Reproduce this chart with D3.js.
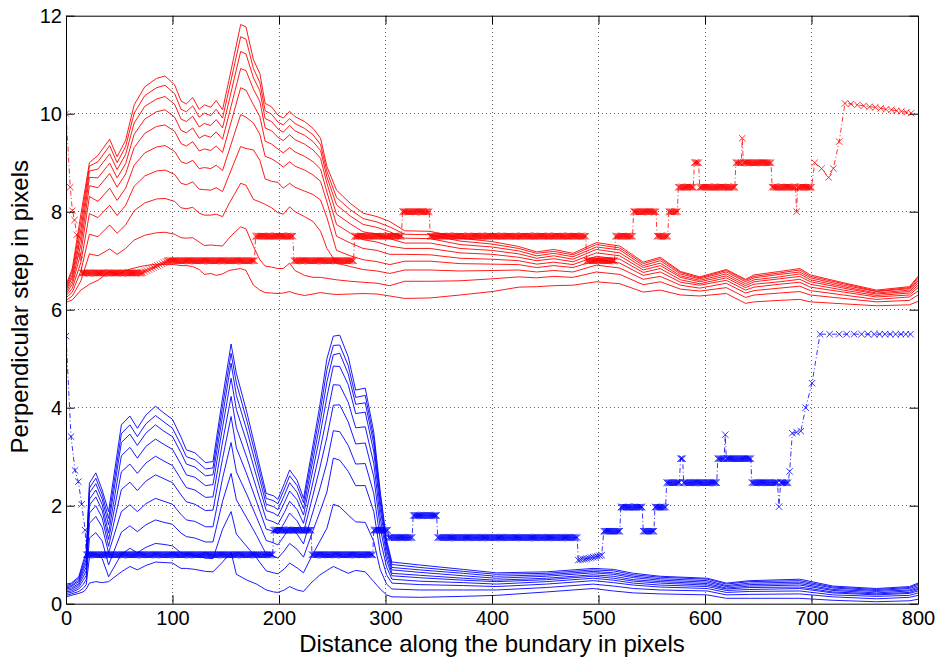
<!DOCTYPE html>
<html>
<head>
<meta charset="utf-8">
<script src="https://cdn.jsdelivr.net/npm/d3@7"></script>
<style>
  html, body { margin: 0; padding: 0; background: #fff; }
  svg { display: block; }
  text { font-family: "Liberation Sans", Arial, Helvetica, sans-serif; }
</style>
</head>
<body>
<svg id="chart" width="937" height="659"></svg>
<script>
// ---------------- data ----------------
const xTicks = [0, 100, 200, 300, 400, 500, 600, 700, 800];
const yTicks = [0, 2, 4, 6, 8, 10, 12];

// upper (red) family: sample positions along the boundary and ten step curves
const redX = [0, 6, 14, 22, 30, 41, 48, 56, 64, 74, 85, 93, 102, 108, 113, 119, 125, 130, 136, 141, 147, 153, 158, 164, 169, 176, 182, 187, 193, 199, 204, 210, 215, 224, 232, 239, 245, 254, 267, 279, 292, 304, 318, 342, 370, 400, 425, 442, 458, 476, 498, 520, 542, 558, 577, 595, 620, 638, 646, 670, 689, 699, 730, 761, 792, 800];
const redCurves = [
  [6.15, 6.2, 6.4, 6.52, 6.6, 6.78, 6.72, 6.8, 6.85, 6.9, 6.93, 6.92, 6.92, 6.9, 6.9, 6.88, 6.82, 6.72, 6.74, 6.7, 6.73, 6.8, 6.82, 6.84, 6.8, 6.5, 6.4, 6.35, 6.34, 6.33, 6.34, 6.37, 6.33, 6.29, 6.32, 6.35, 6.33, 6.31, 6.32, 6.33, 6.32, 6.28, 6.23, 6.24, 6.3, 6.37, 6.46, 6.47, 6.49, 6.5, 6.57, 6.53, 6.36, 6.4, 6.3, 6.28, 6.33, 6.13, 6.16, 6.19, 6.21, 6.16, 6.12, 6.08, 6.1, 6.17],
  [6.19, 6.28, 6.59, 7.14, 7.1, 7.24, 7.13, 7.25, 7.42, 7.52, 7.57, 7.58, 7.54, 7.47, 7.46, 7.47, 7.38, 7.31, 7.32, 7.31, 7.30, 7.46, 7.57, 7.69, 7.65, 7.29, 7.02, 6.89, 6.87, 6.84, 6.84, 6.95, 6.8, 6.7, 6.66, 6.66, 6.64, 6.61, 6.58, 6.56, 6.54, 6.49, 6.58, 6.58, 6.59, 6.63, 6.67, 6.65, 6.68, 6.66, 6.77, 6.72, 6.51, 6.57, 6.42, 6.38, 6.45, 6.25, 6.30, 6.34, 6.37, 6.30, 6.23, 6.16, 6.19, 6.30],
  [6.24, 6.36, 6.79, 7.54, 7.49, 7.73, 7.56, 7.73, 8.02, 8.18, 8.26, 8.27, 8.21, 8.08, 8.06, 8.09, 7.97, 7.93, 7.93, 7.95, 7.90, 8.16, 8.35, 8.58, 8.54, 8.25, 8.2, 8.15, 8.08, 7.98, 7.95, 8.1, 8.0, 7.9, 7.8, 7.6, 7.25, 6.95, 6.88, 6.82, 6.79, 6.74, 6.81, 6.81, 6.79, 6.80, 6.81, 6.77, 6.80, 6.77, 6.91, 6.85, 6.62, 6.68, 6.50, 6.44, 6.54, 6.34, 6.39, 6.44, 6.48, 6.39, 6.30, 6.21, 6.26, 6.38],
  [6.28, 6.44, 6.97, 7.96, 7.88, 8.13, 7.92, 8.13, 8.52, 8.73, 8.83, 8.85, 8.76, 8.58, 8.55, 8.61, 8.46, 8.45, 8.44, 8.49, 8.41, 8.74, 9.01, 9.33, 9.29, 9.26, 9.05, 8.67, 8.62, 8.6, 8.48, 8.58, 8.50, 8.42, 8.35, 8.24, 7.88, 7.21, 7.10, 7.02, 6.98, 6.92, 6.99, 6.99, 6.94, 6.93, 6.92, 6.86, 6.90, 6.86, 7.01, 6.95, 6.70, 6.77, 6.56, 6.50, 6.60, 6.40, 6.46, 6.52, 6.56, 6.46, 6.36, 6.26, 6.30, 6.45],
  [6.32, 6.52, 7.16, 8.31, 8.21, 8.48, 8.23, 8.48, 8.95, 9.20, 9.32, 9.35, 9.23, 9.02, 8.98, 9.05, 8.88, 8.90, 8.88, 8.95, 8.84, 9.24, 9.58, 9.98, 9.93, 9.81, 9.58, 9.13, 9.08, 9.0, 8.91, 9.02, 8.93, 8.85, 8.75, 8.62, 8.20, 7.50, 7.36, 7.25, 7.21, 7.13, 7.13, 7.12, 7.05, 7.03, 7.00, 6.93, 6.97, 6.92, 7.09, 7.03, 6.76, 6.84, 6.61, 6.53, 6.65, 6.45, 6.52, 6.57, 6.62, 6.52, 6.40, 6.29, 6.34, 6.50],
  [6.36, 6.59, 7.33, 8.53, 8.49, 8.78, 8.50, 8.77, 9.31, 9.60, 9.74, 9.77, 9.64, 9.39, 9.34, 9.43, 9.24, 9.28, 9.25, 9.34, 9.21, 9.67, 10.06, 10.53, 10.48, 10.18, 9.94, 9.44, 9.38, 9.28, 9.20, 9.31, 9.22, 9.13, 9.02, 8.87, 8.40, 7.74, 7.56, 7.43, 7.38, 7.30, 7.25, 7.25, 7.16, 7.13, 7.07, 7.00, 7.04, 6.98, 7.16, 7.10, 6.81, 6.90, 6.66, 6.57, 6.69, 6.49, 6.57, 6.63, 6.68, 6.57, 6.44, 6.32, 6.37, 6.55],
  [6.40, 6.66, 7.49, 8.70, 8.69, 8.99, 8.69, 8.98, 9.58, 9.89, 10.04, 10.08, 9.93, 9.66, 9.61, 9.71, 9.50, 9.56, 9.52, 9.63, 9.48, 9.98, 10.41, 10.92, 10.88, 10.50, 10.25, 9.71, 9.65, 9.52, 9.45, 9.57, 9.47, 9.38, 9.26, 9.09, 8.58, 7.95, 7.75, 7.59, 7.54, 7.45, 7.36, 7.36, 7.25, 7.21, 7.14, 7.05, 7.10, 7.03, 7.23, 7.16, 6.86, 6.95, 6.69, 6.60, 6.73, 6.53, 6.61, 6.67, 6.73, 6.61, 6.47, 6.34, 6.40, 6.59],
  [6.43, 6.72, 7.64, 8.83, 8.87, 9.18, 8.86, 9.17, 9.81, 10.15, 10.30, 10.35, 10.19, 9.89, 9.84, 9.95, 9.73, 9.80, 9.76, 9.88, 9.71, 10.25, 10.72, 11.27, 11.22, 10.73, 10.47, 9.90, 9.84, 9.69, 9.62, 9.76, 9.65, 9.56, 9.43, 9.25, 8.71, 8.14, 7.91, 7.74, 7.68, 7.59, 7.46, 7.45, 7.33, 7.28, 7.20, 7.10, 7.15, 7.08, 7.28, 7.22, 6.90, 7.00, 6.73, 6.63, 6.77, 6.57, 6.65, 6.72, 6.77, 6.65, 6.50, 6.37, 6.43, 6.62],
  [6.47, 6.79, 7.80, 8.93, 9.02, 9.35, 9.00, 9.33, 10.01, 10.37, 10.53, 10.58, 10.41, 10.09, 10.04, 10.16, 9.93, 10.01, 9.96, 10.09, 9.91, 10.49, 10.98, 11.57, 11.52, 10.92, 10.64, 10.06, 9.99, 9.83, 9.77, 9.90, 9.80, 9.70, 9.57, 9.37, 8.82, 8.29, 8.04, 7.86, 7.79, 7.69, 7.54, 7.53, 7.40, 7.34, 7.25, 7.15, 7.19, 7.12, 7.33, 7.26, 6.94, 7.04, 6.76, 6.65, 6.80, 6.60, 6.68, 6.75, 6.81, 6.68, 6.53, 6.38, 6.45, 6.66],
  [6.5, 6.85, 7.95, 9.0, 9.15, 9.48, 9.12, 9.46, 10.18, 10.55, 10.72, 10.77, 10.59, 10.26, 10.2, 10.33, 10.09, 10.18, 10.13, 10.27, 10.08, 10.68, 11.2, 11.82, 11.77, 11.1, 10.82, 10.21, 10.14, 9.97, 9.91, 10.05, 9.94, 9.84, 9.7, 9.5, 8.92, 8.44, 8.17, 7.97, 7.9, 7.8, 7.61, 7.6, 7.46, 7.39, 7.29, 7.18, 7.23, 7.15, 7.37, 7.3, 6.97, 7.07, 6.78, 6.67, 6.82, 6.62, 6.71, 6.78, 6.84, 6.71, 6.55, 6.4, 6.47, 6.68]
];

// lower (blue) family
const blueX = [0, 5, 12, 16, 19, 22, 28, 34, 40, 52, 60, 67, 75, 84, 92, 100, 108, 113, 121, 131, 138, 147, 155, 160, 170, 179, 188, 195, 199, 205, 210, 217, 223, 230, 238, 245, 251, 257, 265, 272, 281, 289, 295, 301, 306, 332, 373, 404, 451, 495, 514, 533, 558, 602, 620, 642, 689, 720, 761, 792, 800];
const blueCurves = [
  [0.14, 0.17, 0.21, 0.24, 0.3, 0.42, 0.45, 0.43, 0.45, 0.65, 0.76, 0.69, 0.78, 0.85, 0.84, 0.83, 0.72, 0.72, 0.7, 0.66, 0.65, 0.85, 1.05, 0.6, 0.48, 0.4, 0.28, 0.24, 0.23, 0.28, 0.35, 0.28, 0.25, 0.42, 0.58, 0.68, 0.76, 0.7, 0.62, 0.68, 0.65, 0.45, 0.3, 0.18, 0.14, 0.13, 0.15, 0.17, 0.24, 0.31, 0.26, 0.22, 0.2, 0.18, 0.11, 0.11, 0.11, 0.07, 0.04, 0.06, 0.09],
  [0.17, 0.20, 0.25, 0.31, 0.39, 0.95, 1.03, 0.92, 0.55, 1.01, 1.13, 1.04, 1.15, 1.23, 1.21, 1.18, 1.04, 1.01, 0.99, 0.93, 0.92, 1.52, 1.88, 1.42, 1.16, 0.93, 0.67, 0.63, 0.61, 0.71, 0.83, 0.73, 0.63, 0.94, 1.26, 1.54, 2.03, 1.98, 1.81, 1.67, 1.66, 1.27, 0.70, 0.40, 0.30, 0.28, 0.28, 0.28, 0.33, 0.40, 0.36, 0.31, 0.28, 0.26, 0.18, 0.19, 0.20, 0.14, 0.10, 0.13, 0.17],
  [0.21, 0.23, 0.30, 0.39, 0.49, 1.34, 1.45, 1.28, 0.79, 1.46, 1.59, 1.47, 1.61, 1.71, 1.66, 1.62, 1.44, 1.37, 1.34, 1.26, 1.26, 2.09, 2.66, 2.12, 1.74, 1.39, 1.01, 0.97, 0.93, 1.08, 1.23, 1.11, 0.95, 1.38, 1.85, 2.28, 2.97, 2.93, 2.70, 2.41, 2.41, 1.88, 1.04, 0.59, 0.42, 0.39, 0.37, 0.35, 0.40, 0.47, 0.43, 0.38, 0.34, 0.31, 0.23, 0.25, 0.26, 0.18, 0.15, 0.17, 0.22],
  [0.24, 0.26, 0.34, 0.47, 0.58, 1.64, 1.78, 1.56, 1.04, 1.88, 2.02, 1.88, 2.04, 2.15, 2.09, 2.03, 1.82, 1.71, 1.68, 1.57, 1.57, 2.56, 3.29, 2.69, 2.22, 1.76, 1.29, 1.24, 1.20, 1.39, 1.56, 1.42, 1.22, 1.74, 2.32, 2.88, 3.53, 3.51, 3.23, 2.85, 2.86, 2.25, 1.32, 0.75, 0.50, 0.46, 0.43, 0.40, 0.45, 0.52, 0.48, 0.42, 0.38, 0.35, 0.27, 0.29, 0.31, 0.22, 0.18, 0.21, 0.26],
  [0.27, 0.29, 0.38, 0.54, 0.67, 1.85, 2.00, 1.75, 1.17, 2.33, 2.48, 2.31, 2.50, 2.63, 2.55, 2.47, 2.22, 2.08, 2.03, 1.90, 1.91, 2.96, 3.82, 3.18, 2.63, 2.08, 1.52, 1.48, 1.43, 1.65, 1.85, 1.69, 1.45, 2.05, 2.74, 3.40, 4.05, 4.06, 3.71, 3.26, 3.28, 2.59, 1.56, 0.89, 0.57, 0.53, 0.48, 0.45, 0.49, 0.56, 0.52, 0.46, 0.42, 0.38, 0.30, 0.33, 0.34, 0.24, 0.20, 0.23, 0.29],
  [0.30, 0.32, 0.41, 0.61, 0.75, 2.01, 2.18, 1.90, 1.31, 2.69, 2.85, 2.66, 2.87, 3.01, 2.91, 2.82, 2.54, 2.37, 2.32, 2.17, 2.18, 3.30, 4.23, 3.59, 2.97, 2.35, 1.72, 1.67, 1.62, 1.86, 2.09, 1.92, 1.64, 2.30, 3.08, 3.83, 4.47, 4.46, 4.11, 3.59, 3.61, 2.86, 1.76, 1.00, 0.62, 0.58, 0.52, 0.48, 0.52, 0.59, 0.56, 0.49, 0.45, 0.41, 0.32, 0.36, 0.38, 0.27, 0.22, 0.26, 0.31],
  [0.32, 0.35, 0.45, 0.67, 0.83, 2.13, 2.32, 2.02, 1.44, 3.02, 3.19, 2.97, 3.21, 3.36, 3.25, 3.15, 2.84, 2.63, 2.58, 2.41, 2.43, 3.60, 4.60, 3.96, 3.28, 2.59, 1.90, 1.85, 1.79, 2.06, 2.30, 2.12, 1.81, 2.54, 3.38, 4.22, 4.85, 4.84, 4.47, 3.88, 3.91, 3.10, 1.94, 1.10, 0.69, 0.64, 0.57, 0.52, 0.56, 0.63, 0.60, 0.53, 0.48, 0.44, 0.35, 0.39, 0.41, 0.29, 0.25, 0.28, 0.34],
  [0.35, 0.37, 0.48, 0.73, 0.90, 2.26, 2.45, 2.13, 1.61, 3.29, 3.46, 3.23, 3.48, 3.65, 3.52, 3.41, 3.08, 2.85, 2.79, 2.61, 2.63, 3.83, 4.91, 4.25, 3.52, 2.78, 2.03, 1.98, 1.92, 2.21, 2.47, 2.27, 1.94, 2.72, 3.62, 4.53, 5.08, 5.11, 4.69, 4.07, 4.10, 3.26, 2.08, 1.18, 0.74, 0.69, 0.62, 0.56, 0.59, 0.66, 0.63, 0.56, 0.51, 0.47, 0.37, 0.42, 0.44, 0.32, 0.27, 0.31, 0.37],
  [0.37, 0.40, 0.52, 0.79, 0.98, 2.36, 2.56, 2.23, 1.74, 3.47, 3.65, 3.41, 3.67, 3.84, 3.71, 3.58, 3.24, 3.00, 2.94, 2.75, 2.77, 4.03, 5.11, 4.50, 3.72, 2.94, 2.15, 2.10, 2.04, 2.34, 2.61, 2.41, 2.06, 2.87, 3.83, 4.78, 5.27, 5.28, 4.86, 4.21, 4.25, 3.38, 2.20, 1.24, 0.80, 0.74, 0.66, 0.60, 0.62, 0.69, 0.67, 0.59, 0.54, 0.50, 0.40, 0.45, 0.47, 0.34, 0.29, 0.33, 0.40],
  [0.4, 0.42, 0.55, 0.85, 1.05, 2.46, 2.67, 2.32, 1.88, 3.65, 3.83, 3.58, 3.85, 4.03, 3.89, 3.76, 3.4, 3.14, 3.08, 2.88, 2.9, 4.2, 5.3, 4.7, 3.89, 3.07, 2.25, 2.2, 2.13, 2.45, 2.73, 2.52, 2.15, 3.0, 4.0, 5.0, 5.46, 5.48, 5.04, 4.36, 4.40, 3.5, 2.3, 1.3, 0.85, 0.79, 0.70, 0.63, 0.65, 0.72, 0.70, 0.62, 0.56, 0.52, 0.42, 0.47, 0.50, 0.36, 0.31, 0.35, 0.42]
];

// step estimates: constant runs [from, to, level] sampled at every unit,
// plus individually placed samples [x, level]
const redStepRuns = [[15, 71, 6.75], [95, 177, 7.0], [178, 213, 7.5], [214, 270, 7.0], [271, 315, 7.5], [316, 341, 8.0], [342, 488, 7.5], [489, 515, 7.0], [516, 532, 7.5], [533, 554, 8.0], [555, 565, 7.5], [566, 574, 8.0], [575, 589, 8.5], [590, 594, 9.0], [595, 628, 8.5], [629, 634, 9.0], [636, 662, 9.0], [663, 685, 8.5], [687, 700, 8.5]];
const redStepPoints = [[0, 10.0], [4, 8.5], [6, 8.02], [8, 7.83], [10, 7.53], [13, 7.12],
  [72, 6.76], [74, 6.78], [76, 6.8], [78, 6.82], [80, 6.84], [82, 6.86], [84, 6.88], [86, 6.9], [88, 6.92], [90, 6.94], [92, 6.96], [94, 6.98],
  [635, 9.5], [686, 8.0],
  [703, 9.0], [709.5, 8.88], [716, 8.7], [720.5, 8.88], [726, 9.43], [731.4, 10.21], [737, 10.2], [743, 10.18], [749, 10.16], [754.5, 10.14], [760, 10.13], [765, 10.11], [770, 10.09], [775, 10.08], [780, 10.06], [784.5, 10.05], [789, 10.03], [793.5, 10.01]];

const blueStepRuns = [[19, 194, 1.0], [195, 230, 1.5], [231, 288, 1.0], [289, 302, 1.5], [303, 325, 1.35], [326, 348, 1.8], [349, 480, 1.35], [505, 520, 1.48], [521, 541, 1.97], [542, 552, 1.48], [553, 563, 1.97], [564, 576, 2.47], [577, 579, 2.96], [580, 611, 2.47], [612, 618, 2.96], [620, 643, 2.96], [644, 668, 2.47], [671, 678, 2.47]];
const blueStepPoints = [[0, 5.46], [4.7, 3.41], [8.5, 2.72], [11.6, 2.49], [14.7, 2.03], [18, 1.5],
  [481, 0.89], [483, 0.9], [485, 0.91], [487, 0.91], [489, 0.92], [491, 0.93], [493, 0.94], [495, 0.95], [497, 0.96], [499, 0.97], [501, 0.98], [503, 0.99],
  [619, 3.45], [669.5, 1.98],
  [679.5, 2.7], [682, 3.48], [686, 3.5], [690, 3.52], [694.5, 4.0], [700.5, 4.5], [708, 5.5], [717, 5.5], [726, 5.5], [733, 5.5], [740, 5.5], [747, 5.5], [753, 5.5], [759, 5.5], [764, 5.5], [769, 5.5], [774, 5.5], [779, 5.5], [784, 5.5], [788.5, 5.5], [793, 5.5]];

const xTitle = "Distance along the bundary in pixels";
const yTitle = "Perpendicular step in pixels";

// ---------------- drawing ----------------
const W = 937, H = 659;
const plot = { left: 66, right: 918, top: 15.7, bottom: 603.7 };
const RED = "#ff0000", BLUE = "#0000ff";

const x = d3.scaleLinear().domain([0, 800]).range([plot.left, plot.right]);
const y = d3.scaleLinear().domain([0, 12]).range([plot.bottom, plot.top]);

const svg = d3.select("#chart");
svg.append("rect").attr("width", W).attr("height", H).attr("fill", "#fff");

// dotted grid
const grid = svg.append("g").attr("stroke", "#666").attr("stroke-width", 1)
  .attr("stroke-dasharray", "1,3").attr("shape-rendering", "crispEdges");
grid.selectAll("line.gx").data(xTicks.slice(1, -1)).join("line").attr("class", "gx")
  .attr("x1", d => x(d)).attr("x2", d => x(d)).attr("y1", plot.top).attr("y2", plot.bottom);
grid.selectAll("line.gy").data(yTicks.slice(1, -1)).join("line").attr("class", "gy")
  .attr("y1", d => y(d)).attr("y2", d => y(d)).attr("x1", plot.left).attr("x2", plot.right);

svg.append("clipPath").attr("id", "clip").append("rect")
  .attr("x", plot.left).attr("y", plot.top)
  .attr("width", plot.right - plot.left).attr("height", plot.bottom - plot.top);
const body = svg.append("g").attr("clip-path", "url(#clip)");

function drawFamily(xs, curves, color) {
  const line = d3.line().x((d, i) => x(xs[i])).y(d => y(d));
  body.append("g").selectAll("path").data(curves).join("path")
    .attr("d", line).attr("fill", "none").attr("stroke", color)
    .attr("stroke-width", 0.9).attr("stroke-linejoin", "round");
}
drawFamily(redX, redCurves, RED);
drawFamily(blueX, blueCurves, BLUE);

function stepSeries(runs, points) {
  const pts = points.map(p => ({ x: p[0], v: p[1] }));
  runs.forEach(([a, b, v]) => { for (let t = a; t <= b; t++) pts.push({ x: t, v: v }); });
  return pts.sort((p, q) => p.x - q.x);
}

function drawSteps(pts, color) {
  const g = body.append("g");
  const line = d3.line().x(d => x(d.x)).y(d => y(d.v));
  g.append("path").datum(pts).attr("d", line).attr("fill", "none")
    .attr("stroke", color).attr("stroke-width", 0.8).attr("stroke-dasharray", "5,2.5,1,2.5");
  const s = 3.2;
  g.selectAll("path.mk").data(pts).join("path").attr("class", "mk")
    .attr("transform", d => `translate(${x(d.x)},${y(d.v)})`)
    .attr("d", `M${-s},${-s}L${s},${s}M${-s},${s}L${s},${-s}`)
    .attr("fill", "none").attr("stroke", color).attr("stroke-width", 0.8);
}
drawSteps(stepSeries(redStepRuns, redStepPoints), RED);
drawSteps(stepSeries(blueStepRuns, blueStepPoints), BLUE);

// axes on all four sides, ticks pointing inward
const TL = 8.5;
function styleAxis(g) {
  g.selectAll("path.domain").attr("stroke", "#000").attr("stroke-width", 1);
  g.selectAll(".tick line").attr("stroke", "#000").attr("stroke-width", 1);
  g.selectAll("text").attr("font-size", 20).attr("fill", "#000")
    .attr("font-family", '"Liberation Sans", Arial, Helvetica, sans-serif');
}
svg.append("g").attr("transform", `translate(0,${plot.bottom})`)
  .call(d3.axisBottom(x).tickValues(xTicks).tickSizeInner(-TL).tickSizeOuter(0).tickPadding(7.5))
  .call(styleAxis);
svg.append("g").attr("transform", `translate(0,${plot.top})`)
  .call(d3.axisTop(x).tickValues(xTicks).tickSizeInner(-TL).tickSizeOuter(0).tickFormat(() => ""))
  .call(styleAxis);
svg.append("g").attr("transform", `translate(${plot.left},0)`)
  .call(d3.axisLeft(y).tickValues(yTicks).tickSizeInner(-TL).tickSizeOuter(0).tickPadding(4))
  .call(styleAxis);
svg.append("g").attr("transform", `translate(${plot.right},0)`)
  .call(d3.axisRight(y).tickValues(yTicks).tickSizeInner(-TL).tickSizeOuter(0).tickFormat(() => ""))
  .call(styleAxis);

// axis titles
svg.append("text").attr("x", (plot.left + plot.right) / 2).attr("y", 652)
  .attr("text-anchor", "middle").attr("font-size", 24).attr("fill", "#000").text(xTitle);
svg.append("text").attr("transform", `translate(27.5,${(plot.top + plot.bottom) / 2 - 3}) rotate(-90)`)
  .attr("text-anchor", "middle").attr("font-size", 24).attr("fill", "#000").text(yTitle);
</script>
</body>
</html>
